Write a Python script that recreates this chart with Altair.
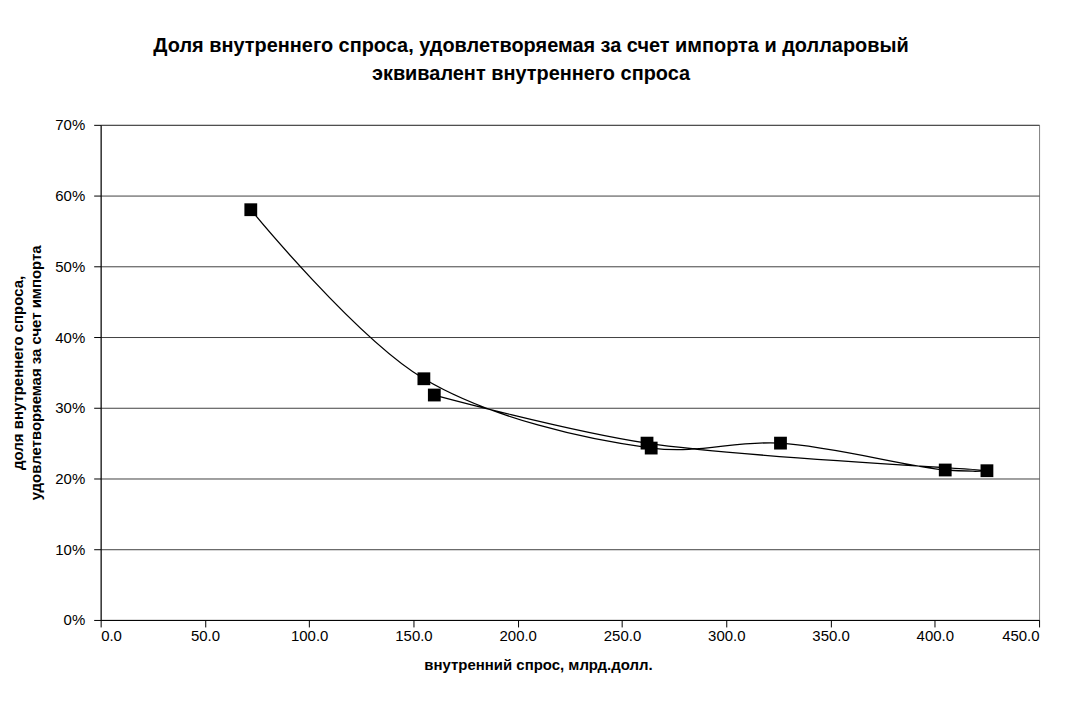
import altair as alt
import pandas as pd

# Domestic demand (bn USD) and import share, in series order
demand = [72.0, 155.0, 264.0, 326.0, 405.0, 425.0, 262.0, 160.0]
share = [0.580, 0.341, 0.243, 0.250, 0.212, 0.211, 0.250, 0.318]
order = [1, 2, 3, 4, 5, 6, 7, 8]

df = pd.DataFrame({"demand": demand, "share": share, "order": order})

FONT = "Liberation Sans"

x = alt.X("demand:Q", scale=alt.Scale(domain=[0, 450], nice=False),
          axis=alt.Axis(values=[0, 50, 100, 150, 200, 250, 300, 350, 400, 450],
                        format=".1f", grid=False, tickSize=7, tickColor="black",
                        domainColor="black", labelFontSize=15, labelFont=FONT,
                        labelColor="black", labelPadding=2,
                        title="внутренний спрос, млрд.долл.", titleFont=FONT,
                        titleFontSize=15, titleFontWeight="bold", titleColor="black",
                        titleX=439, titlePadding=14))
y = alt.Y("share:Q", scale=alt.Scale(domain=[0, 0.7], nice=False),
          axis=alt.Axis(values=[0, 0.1, 0.2, 0.3, 0.4, 0.5, 0.6, 0.7], format=".0%",
                        grid=True, gridColor="#404040", gridWidth=1,
                        tickSize=7, tickColor="black", domainColor="black",
                        labelFontSize=15, labelFont=FONT, labelColor="black",
                        labelPadding=9,
                        title=["доля внутреннего спроса,", "удовлетворяемая за счет импорта"],
                        titleFont=FONT, titleFontSize=15, titleFontWeight="bold",
                        titleColor="black", titlePadding=11, titleLineHeight=18))

base = alt.Chart(df)
line = base.mark_line(interpolate="catmull-rom", color="black", strokeWidth=1.3).encode(
    x=x, y=y, order="order:Q")
pts = base.mark_point(shape="square", filled=True, size=165, color="black", opacity=1).encode(
    x="demand:Q", y="share:Q")

chart = (line + pts).properties(
    width=942, height=497,
    padding={"left": 93, "top": 116, "right": 20, "bottom": 60},
    autosize=alt.AutoSizeParams(type="none"),
    title=alt.TitleParams(
        ["Доля внутреннего спроса, удовлетворяемая за счет импорта и долларовый",
         "эквивалент внутреннего спроса"],
        font=FONT, fontSize=20, fontWeight="bold", color="black",
        anchor="middle", frame="group", dx=-39, offset=34, lineHeight=28),
).configure_view(stroke="#808080", strokeWidth=1)

chart.save("out.html", embed_options={"renderer": "svg", "actions": False})
